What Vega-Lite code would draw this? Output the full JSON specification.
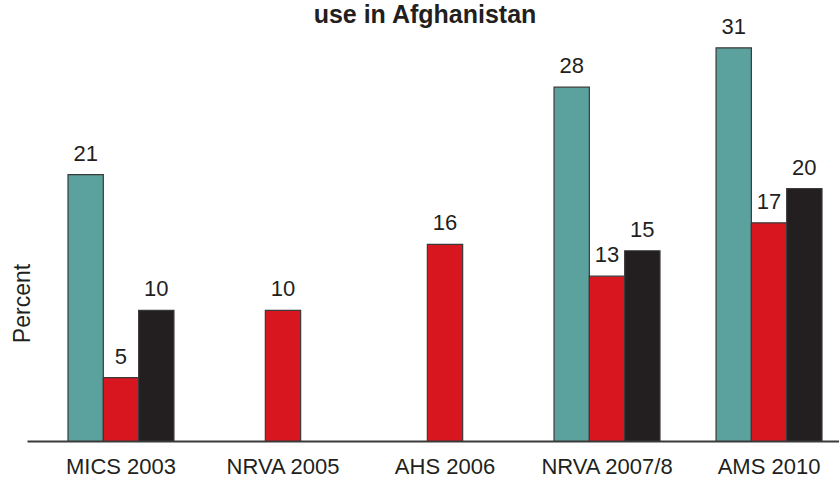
{
  "$schema": "https://vega.github.io/schema/vega-lite/v6.json",
  "width": 812,
  "height": 401,
  "autosize": {"type": "none"},
  "padding": {"left": 27, "top": 40, "right": 0, "bottom": 36},
  "background": "white",
  "title": {
    "text": "use in Afghanistan",
    "fontSize": 25,
    "font": "Liberation Sans",
    "fontWeight": "bold",
    "color": "#231F20",
    "anchor": "middle",
    "dx": -8,
    "offset": 0,
    "dy": 32,
    "baseline": "alphabetic"
  },
  "config": {"view": {"stroke": null}, "font": "Liberation Sans"},
  "data": {
    "values": [
      {"survey": "MICS 2003", "series": "s1", "value": 21},
      {"survey": "MICS 2003", "series": "s2", "value": 5},
      {"survey": "MICS 2003", "series": "s3", "value": 10.3},
      {"survey": "NRVA 2005", "series": "s2", "value": 10.3},
      {"survey": "AHS 2006", "series": "s2", "value": 15.5},
      {"survey": "NRVA 2007/8", "series": "s1", "value": 27.9},
      {"survey": "NRVA 2007/8", "series": "s2", "value": 13},
      {"survey": "NRVA 2007/8", "series": "s3", "value": 15},
      {"survey": "AMS 2010", "series": "s1", "value": 31},
      {"survey": "AMS 2010", "series": "s2", "value": 17.2},
      {"survey": "AMS 2010", "series": "s3", "value": 19.9}
    ]
  },
  "encoding": {
    "x": {
      "field": "survey",
      "type": "nominal",
      "sort": ["MICS 2003", "NRVA 2005", "AHS 2006", "NRVA 2007/8", "AMS 2010"],
      "scale": {"paddingInner": 0.346, "paddingOuter": 0.179, "align": 0.707},
      "title": null,
      "axis": {
        "domain": true,
        "domainColor": "#3a3a3a",
        "domainWidth": 2,
        "ticks": false,
        "grid": false,
        "labelAngle": 0,
        "labelFontSize": 22,
        "labelColor": "#231F20",
        "labelPadding": 15
      }
    },
    "xOffset": {"field": "series", "type": "nominal", "scale": {"domain": ["s1", "s2", "s3"]}},
    "y": {
      "field": "value",
      "type": "quantitative",
      "scale": {"domain": [0, 31.62], "nice": false, "zero": true},
      "axis": {
        "title": "Percent",
        "domain": false,
        "ticks": false,
        "labels": false,
        "grid": false,
        "titleFontSize": 23,
        "titleFontWeight": "normal",
        "titleColor": "#231F20",
        "titleX": 7,
        "titleY": 263,
        "titleBaseline": "bottom"
      }
    }
  },
  "layer": [
    {
      "mark": {"type": "bar", "stroke": "#3a3a3a", "strokeWidth": 1.2},
      "encoding": {
        "color": {
          "field": "series",
          "type": "nominal",
          "scale": {"domain": ["s1", "s2", "s3"], "range": ["#5BA19D", "#D7161F", "#231F20"]},
          "legend": null
        }
      }
    },
    {
      "mark": {"type": "text", "dy": -14, "baseline": "alphabetic", "fontSize": 22, "color": "#231F20"},
      "encoding": {"text": {"field": "value", "type": "quantitative", "format": ".0f"}}
    }
  ]
}
